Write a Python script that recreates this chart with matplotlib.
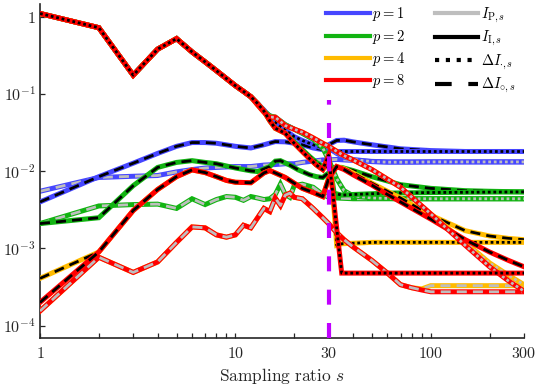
import matplotlib
matplotlib.use("Agg")
import matplotlib.pyplot as plt
from matplotlib.lines import Line2D

plt.rcParams["mathtext.fontset"] = "cm"
plt.rcParams["font.family"] = "serif"

# ─── COLOURS ────────────────────────────────────────────────────────────────
P_LABELS = [1, 2, 4, 8]
P_COLORS = ["#4646ff", "#12b412", "#ffbb00", "#ff0000"]
GRAY = "#bebebe"
PURPLE = "#c000ff"

# ─── DATA ───────────────────────────────────────────────────────────────────
# dotted curves (ΔI_.) share the same head for s <= 12
s_head = [1, 2, 3, 4, 5, 6, 7, 8, 9, 10, 11, 12]
dot_head = [1.1, 0.72, 0.175, 0.38, 0.52, 0.35, 0.26, 0.20, 0.158, 0.128, 0.108, 0.092]

# I_P, ΔI_.  (gray dotted)
s_pdot_1 = [13, 14, 15, 16, 18, 20, 22, 25, 28, 30, 33, 36, 40, 50, 60, 80, 100, 150, 200, 300]
pdot_1 = [0.074, 0.06, 0.052, 0.05, 0.04, 0.035, 0.031, 0.026, 0.022, 0.020, 0.017, 0.0152,
          0.0142, 0.0133, 0.0131, 0.0131, 0.0132, 0.0132, 0.0132, 0.0132]
s_pdot_2 = [13, 14, 15, 16, 18, 20, 22, 25, 28, 30, 33, 36, 40, 50, 70, 100, 150, 200, 300]
pdot_2 = [0.074, 0.06, 0.052, 0.05, 0.04, 0.035, 0.031, 0.026, 0.02, 0.014, 0.008, 0.0056,
          0.0048, 0.0045, 0.0044, 0.0044, 0.0044, 0.0044, 0.0044]
s_pdot_4 = [13, 14, 15, 16, 18, 20, 22, 25, 28, 30, 35, 40, 50, 70, 100, 150, 200, 250, 300]
pdot_4 = [0.072, 0.058, 0.05, 0.05, 0.039, 0.035, 0.032, 0.027, 0.023, 0.021, 0.0165, 0.014,
          0.0105, 0.0062, 0.0028, 0.0012, 0.00065, 0.00045, 0.00034]
s_pdot_8 = [13, 14, 15, 16, 18, 20, 22, 25, 28, 30, 35, 40, 50, 70, 100, 150, 200, 250, 300]
pdot_8 = [0.072, 0.058, 0.05, 0.05, 0.039, 0.035, 0.032, 0.027, 0.023, 0.021, 0.0165, 0.014,
          0.0105, 0.0062, 0.0028, 0.0011, 0.00058, 0.00038, 0.00028]

# I_I, ΔI_.  (black dotted)
s_idot_1 = [13, 14, 15, 16, 18, 20, 22, 25, 28, 30, 33, 40, 60, 100, 300]
idot_1 = [0.075, 0.062, 0.05, 0.043, 0.034, 0.028, 0.025, 0.022, 0.020, 0.019, 0.018,
          0.018, 0.018, 0.018, 0.018]
s_idot_2 = [13, 14, 15, 16, 18, 20, 22, 24, 26, 28, 29, 30, 32, 35, 40, 60, 100, 300]
idot_2 = [0.075, 0.06, 0.045, 0.036, 0.031, 0.024, 0.019, 0.0155, 0.013, 0.0115, 0.012,
          0.016, 0.0052, 0.0049, 0.005, 0.0052, 0.0053, 0.0054]
s_idot_4 = [13, 14, 15, 16, 18, 20, 22, 24, 26, 28, 30, 31, 33, 35, 50, 100, 300]
idot_4 = [0.075, 0.06, 0.045, 0.036, 0.031, 0.023, 0.018, 0.0145, 0.012, 0.0105, 0.012,
          0.009, 0.0011, 0.00115, 0.0012, 0.0012, 0.0012]
s_idot_8 = [13, 14, 15, 16, 18, 20, 22, 24, 26, 28, 30, 35, 40, 100, 300]
idot_8 = [0.075, 0.06, 0.045, 0.036, 0.031, 0.023, 0.018, 0.0145, 0.012, 0.0105, 0.016,
          0.00048, 0.00048, 0.00048, 0.00048]

# I_I, ΔI_o  (black dashed)
s_idash_1 = [1, 2, 3, 4, 5, 6, 7, 8, 10, 12, 14, 16, 18, 20, 22, 25, 28, 30, 33, 36, 40,
             50, 70, 100, 150, 200, 300]
idash_1 = [0.004, 0.0085, 0.0127, 0.017, 0.021, 0.0235, 0.0235, 0.023, 0.021, 0.02, 0.022,
           0.0242, 0.024, 0.023, 0.022, 0.02, 0.019, 0.022, 0.025, 0.0252, 0.024, 0.022,
           0.0195, 0.0185, 0.018, 0.018, 0.018]
s_idash_2 = [1, 2, 3, 4, 5, 6, 7, 8, 10, 12, 13, 15, 16, 17, 19, 21, 24, 26, 28, 30, 32, 35,
             40, 50, 70, 100, 150, 200, 300]
idash_2 = [0.0021, 0.0025, 0.0065, 0.0112, 0.013, 0.0137, 0.013, 0.0125, 0.011, 0.0101,
           0.0099, 0.0115, 0.0135, 0.0137, 0.012, 0.0104, 0.009, 0.0085, 0.0083, 0.0095,
           0.0112, 0.0112, 0.0102, 0.0085, 0.0067, 0.006, 0.0056, 0.0055, 0.0054]
s_idash_4 = [1, 2, 3, 4, 5, 6, 7, 8, 9, 10, 12, 14, 15, 16, 18, 20, 22, 25, 28, 30, 33, 36,
             40, 50, 60, 70, 80, 100, 150, 200, 250, 300]
idash_4 = [0.00041, 0.0009, 0.0031, 0.0058, 0.0085, 0.0104, 0.0096, 0.0085, 0.0076, 0.0072,
           0.0071, 0.0095, 0.0102, 0.0095, 0.0083, 0.007, 0.006, 0.0053, 0.0047, 0.008,
           0.0115, 0.0108, 0.0095, 0.007, 0.0055, 0.0045, 0.0037, 0.0027, 0.0017, 0.00145,
           0.00135, 0.0013]
s_idash_8 = s_idash_4
idash_8 = [0.0002, 0.0009, 0.0031, 0.0058, 0.0085, 0.0104, 0.0096, 0.0085, 0.0076, 0.0072,
           0.0071, 0.0095, 0.0102, 0.0095, 0.0083, 0.007, 0.006, 0.0053, 0.0047, 0.008,
           0.0115, 0.0105, 0.009, 0.0066, 0.005, 0.004, 0.0033, 0.0024, 0.0013, 0.0009,
           0.0007, 0.00058]

# I_P, ΔI_o  (gray dashed)
s_pdash_1 = [1, 2, 3, 4, 5, 6, 7, 8, 10, 12, 14, 16, 18, 20, 22, 25, 28, 30, 33, 36, 40,
             50, 60, 100, 300]
pdash_1 = [0.0055, 0.0083, 0.0086, 0.0088, 0.0098, 0.0105, 0.011, 0.0112, 0.0115, 0.0115,
           0.012, 0.0122, 0.0125, 0.0125, 0.013, 0.0135, 0.014, 0.014, 0.0142, 0.014,
           0.0138, 0.0134, 0.0132, 0.0132, 0.0132]
s_pdash_2 = [1, 2, 3, 4, 5, 6, 7, 8, 9, 10, 11, 12, 13, 14, 15, 16, 17, 18, 19, 20, 22, 25,
             28, 30, 33, 40, 60, 100, 300]
pdash_2 = [0.0021, 0.00355, 0.0037, 0.00375, 0.0033, 0.0044, 0.0037, 0.0043, 0.0047, 0.0046,
           0.0042, 0.0047, 0.0045, 0.0043, 0.0044, 0.005, 0.0068, 0.005, 0.0046, 0.0065,
           0.0068, 0.0062, 0.005, 0.0046, 0.0045, 0.0044, 0.0044, 0.0044, 0.0044]
s_pdash_4 = [1, 2, 3, 4, 5, 6, 7, 8, 9, 10, 11, 12, 13, 14, 15, 16, 17, 18, 19, 20, 22, 25,
             28, 30, 33, 36, 40, 50, 60, 70, 80, 90, 100, 150, 300]
pdash_4 = [1.55e-4, 7.7e-4, 4.9e-4, 6.7e-4, 1.2e-3, 1.9e-3, 1.85e-3, 1.5e-3, 1.4e-3, 1.5e-3,
           2.0e-3, 1.85e-3, 2.5e-3, 3.3e-3, 3.0e-3, 4.5e-3, 3.6e-3, 4.9e-3, 5.2e-3, 4.6e-3,
           4.4e-3, 3.3e-3, 2.5e-3, 2.1e-3, 1.6e-3, 1.3e-3, 1.05e-3, 7e-4, 4.8e-4, 3.4e-4,
           3.1e-4, 3.0e-4, 3.3e-4, 3.3e-4, 3.3e-4]
s_pdash_8 = s_pdash_4
pdash_8 = [1.55e-4, 7.7e-4, 4.9e-4, 6.7e-4, 1.2e-3, 1.9e-3, 1.85e-3, 1.5e-3, 1.4e-3, 1.5e-3,
           2.0e-3, 1.85e-3, 2.5e-3, 3.3e-3, 3.0e-3, 4.5e-3, 3.6e-3, 4.9e-3, 5.2e-3, 4.6e-3,
           4.4e-3, 3.3e-3, 2.5e-3, 2.1e-3, 1.6e-3, 1.3e-3, 1.05e-3, 7e-4, 4.8e-4, 3.4e-4,
           3.1e-4, 2.9e-4, 2.75e-4, 2.75e-4, 2.75e-4]

S_CUT = 30  # vertical marker

X_TICKS = [1, 10, 30, 100, 300]
X_MINOR = [2, 3, 4, 5, 6, 7, 8, 9, 20, 40, 50, 60, 70, 80, 90, 200]
Y_TICKS = [1e-4, 1e-3, 1e-2, 1e-1, 1]
Y_LABELS = [r"$10^{-4}$", r"$10^{-3}$", r"$10^{-2}$", r"$10^{-1}$", r"$1$"]

# ─── FIGURE ─────────────────────────────────────────────────────────────────
fig = plt.figure(figsize=(5.41, 3.92), dpi=100)
ax = fig.add_axes([40 / 541, 54.3 / 392, 484 / 541, 333.7 / 392])

COL_LW = 3.6
OV_LW = 2.0
DASHED = (0, (3.6, 2.2))
DOTTED = (0, (1.0, 1.0))

curves = {
    1: [(s_pdash_1, pdash_1, GRAY, DASHED), (s_idash_1, idash_1, "k", DASHED),
        (s_head + s_pdot_1, dot_head + pdot_1, GRAY, DOTTED),
        (s_head + s_idot_1, dot_head + idot_1, "k", DOTTED)],
    2: [(s_pdash_2, pdash_2, GRAY, DASHED), (s_idash_2, idash_2, "k", DASHED),
        (s_head + s_pdot_2, dot_head + pdot_2, GRAY, DOTTED),
        (s_head + s_idot_2, dot_head + idot_2, "k", DOTTED)],
    4: [(s_pdash_4, pdash_4, GRAY, DASHED), (s_idash_4, idash_4, "k", DASHED),
        (s_head + s_pdot_4, dot_head + pdot_4, GRAY, DOTTED),
        (s_head + s_idot_4, dot_head + idot_4, "k", DOTTED)],
    8: [(s_pdash_8, pdash_8, GRAY, DASHED), (s_idash_8, idash_8, "k", DASHED),
        (s_head + s_pdot_8, dot_head + pdot_8, GRAY, DOTTED),
        (s_head + s_idot_8, dot_head + idot_8, "k", DOTTED)],
}

z = 2
for p, col in zip(P_LABELS, P_COLORS):
    for xs, ys, ov_col, ls in curves[p]:
        ax.plot(xs, ys, color=col, lw=COL_LW, solid_joinstyle="miter", zorder=z)
        ax.plot(xs, ys, color=ov_col, lw=OV_LW, linestyle=ls, dash_capstyle="butt",
                zorder=z + 0.5)
        z += 1

ax.axvline(S_CUT, color=PURPLE, lw=3.0, linestyle=(0, (3.6, 4.4)), dash_capstyle="butt",
           zorder=z + 1)

ax.set_xscale("log")
ax.set_yscale("log")
ax.set_xlim(1, 300)
ax.set_ylim(7.0e-5, 1.46)

ax.set_xticks(X_TICKS)
ax.set_xticklabels([rf"${v}$" for v in X_TICKS])
ax.set_xticks(X_MINOR, minor=True)
ax.set_xticklabels([], minor=True)
ax.set_yticks(Y_TICKS)
ax.set_yticklabels(Y_LABELS)
ax.yaxis.set_minor_locator(matplotlib.ticker.NullLocator())

for side in ["top", "right"]:
    ax.spines[side].set_visible(False)
for side in ["left", "bottom"]:
    ax.spines[side].set_linewidth(1.2)
    ax.spines[side].set_color("#262626")
ax.tick_params(which="both", direction="in", length=3.8, width=0.9, color="#262626",
               labelsize=11.5, labelcolor="#262626")
ax.tick_params(axis="x", which="major", pad=5)
ax.tick_params(axis="y", which="major", pad=3)

ax.set_xlabel(r"$\mathrm{Sampling\ ratio}\ s$", fontsize=12.5, color="#262626", labelpad=3)

# ─── LEGEND ─────────────────────────────────────────────────────────────────
handles = [Line2D([], [], color=c, lw=3) for c in P_COLORS]
labels = [rf"$p = {p}$" for p in P_LABELS]
handles += [
    Line2D([], [], color=GRAY, lw=3),
    Line2D([], [], color="k", lw=3),
    Line2D([], [], color="k", lw=3, linestyle=(0, (1.0, 1.6)), dash_capstyle="butt"),
    Line2D([], [], color="k", lw=3, linestyle=(0, (4.0, 4.0)), dash_capstyle="butt"),
]
labels += [r"$I_{\mathrm{P},s}$", r"$I_{\mathrm{I},s}$", r"$\Delta I_{\cdot,s}$",
           r"$\Delta I_{\circ,s}$"]
leg = ax.legend(handles, labels, ncol=2, loc="upper left",
                bbox_to_anchor=(322 / 541, 1 - 1 / 392), bbox_transform=fig.transFigure,
                fontsize=10.5, handlelength=3.0, handletextpad=0.15, columnspacing=2.0,
                labelspacing=0.3, borderpad=0.3, borderaxespad=0, frameon=True,
                fancybox=False, framealpha=1)
leg.get_frame().set_edgecolor("white")
leg.get_frame().set_linewidth(0)
leg.set_zorder(z + 5)

fig.savefig("out.png", dpi=100)
